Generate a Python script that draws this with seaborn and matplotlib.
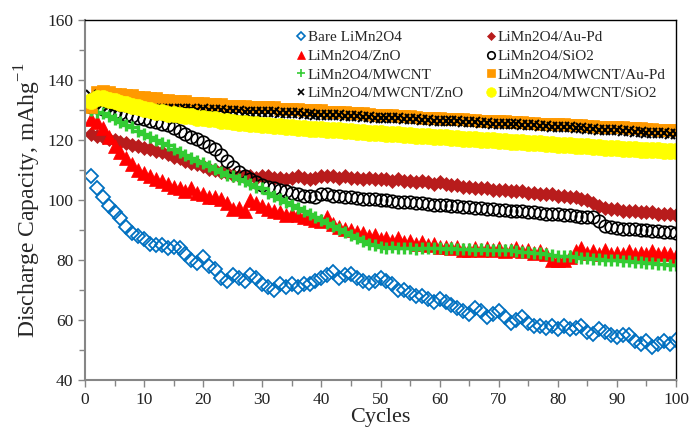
import numpy as np
import pandas as pd
import seaborn as sns
import matplotlib.pyplot as plt
from matplotlib.ticker import MultipleLocator

cycles = list(range(1, 101))

bare = [108, 104, 101, 98, 96, 94, 91, 89, 88, 87,
        85.5, 85, 85, 84, 84.5, 84, 82, 80, 79, 81,
        78, 77, 74, 73, 75, 74, 73, 75, 74, 72,
        71, 70, 72, 71, 72, 71, 72, 72, 73, 74,
        75, 76, 74, 75, 75.5, 74, 73, 72.5, 73, 74,
        73, 72, 70, 70, 69, 68, 68, 67, 66, 67,
        66, 65, 64, 63, 62, 64, 63, 61, 62, 63,
        61, 59, 60, 61, 59, 58, 58, 57.5, 58, 57,
        58, 57, 57.5, 58, 56, 55.5, 57, 56, 55, 54.5,
        55, 55, 53, 52, 53, 51, 52, 53, 52, 53.5]

au_pd = [122, 121.5, 121, 120.5, 120, 119.5, 119, 118.5, 118, 117.5,
         117, 116.5, 116, 115.5, 114.5, 114, 113, 112.5, 112, 111.5,
         110.5, 110, 109.5, 109, 108.5, 108, 108, 108, 107.5, 108,
         108, 107.5, 107.5, 107, 107.5, 108, 107.5, 107, 107.5, 108,
         108, 108, 107.5, 108, 107.5, 107.5, 107, 107.5, 107, 107,
         107, 106.5, 107, 106.5, 106.5, 106, 106.5, 106, 105.5, 106,
         105.5, 105, 105, 104.5, 104.5, 104, 104, 104, 103.5, 103.5,
         103.5, 103, 103, 103, 102.5, 102.5, 102, 102, 102, 101.5,
         101.5, 101, 101, 100.5, 100, 99, 98, 97.5, 97, 97,
         96.5, 96.5, 96.5, 96, 96, 96, 95.5, 95.5, 95.5, 95]

zno = [127, 126, 124, 121, 118, 116, 114, 112, 110, 109,
       108, 107, 106.5, 105.5, 104.5, 104, 103, 104, 102.5, 102,
       101, 101, 100.5, 99, 97, 97.5, 96.5, 100, 99, 98,
       97, 96.5, 96, 95, 95.5, 95, 94.5, 94, 93.5, 93,
       94.5, 92, 91, 90.5, 90, 89.5, 89, 88, 88.5, 87,
       87.5, 86.5, 87.5, 86, 86.5, 85.5, 86, 85, 85.5, 84.5,
       84.5, 84, 84.5, 83.5, 83.5, 84, 83.5, 84, 83.5, 84,
       83, 83.5, 84, 83, 83.5, 82.5, 83, 82, 80, 80,
       80, 81, 83, 84, 82.5, 83, 82, 83.5, 82, 82.5,
       82, 83, 82, 82.5, 82, 83, 82, 82.5, 82, 81.5]

sio2 = [131, 131, 130.5, 130, 129.5, 129, 128.5, 128, 127.5, 127,
        126.5, 126, 125.5, 125, 124, 123, 122, 121, 120.5, 119.5,
        118, 117, 115, 113, 111, 109.5, 108, 107, 106, 105,
        104.5, 104, 103.5, 103, 102.5, 102, 101.5, 101.5, 101, 102,
        102, 101.5, 101.5, 101, 101, 100.8, 100.5, 100.5, 100.3, 100,
        100, 99.8, 99.5, 99.5, 99.3, 99, 99, 98.8, 98.5, 98.5,
        98.3, 98, 98, 97.8, 97.6, 97.5, 97.3, 97, 97, 96.8,
        96.8, 96.5, 96.5, 96.3, 96, 96, 95.8, 95.5, 95.5, 95.3,
        95, 95, 94.8, 94.5, 94.5, 94.3, 93, 91.5, 91, 90.8,
        90.5, 90.5, 90.3, 90, 90, 89.8, 89.6, 89.5, 89.3, 89]

mwcnt = [130, 129.5, 129, 128, 127, 126, 125, 124.5, 123, 122,
         121, 120, 119, 118.5, 117, 116, 115, 114, 113, 112.5,
         111.5, 110.5, 109.5, 108.5, 108, 107, 106.5, 105.5, 104.5, 104,
         102.5, 101.5, 100.5, 99.5, 98.5, 97.5, 96.5, 95.5, 94.5, 93.5,
         92.5, 91.5, 90.5, 89.5, 88.5, 87.5, 86.5, 85.5, 85, 84.5,
         84, 84.2, 83.9, 84.1, 84, 83.8, 84.1, 84, 83.9, 84,
         83.8, 83.9, 83.7, 83.6, 83.8, 83.5, 83.6, 83.4, 83.5, 83.3,
         83.3, 83.2, 83, 82.8, 82.6, 82.4, 82.2, 82, 81.8, 81.5,
         81.4, 81.2, 81, 80.8, 80.6, 80.5, 80.3, 80.1, 80, 79.9,
         79.7, 79.6, 79.4, 79.2, 79, 78.9, 78.8, 78.6, 78.5, 78.3]

mwcnt_au_pd = [131, 136, 136.5, 136, 135.5, 135.5, 135, 135, 134.5, 134.5,
               134, 134, 133.5, 133.5, 133, 133, 133, 132.5, 132.5, 132.5,
               132, 132, 132, 131.5, 131.5, 131.5, 131.5, 131, 131, 131,
               131, 131, 130.5, 130.5, 130.5, 130.5, 130, 130, 130, 130,
               129.5, 129.5, 129.5, 129.3, 129, 129, 129, 128.8, 128.5, 128.5,
               128.5, 128.3, 128, 128, 128, 127.8, 127.5, 127.5, 127.5, 127.3,
               127, 127, 127, 127, 126.8, 126.8, 126.5, 126.5, 126.5, 126.3,
               126.3, 126, 126, 126, 125.8, 125.8, 125.5, 125.5, 125.5, 125.3,
               125.3, 125, 125, 125, 124.8, 124.8, 124.5, 124.5, 124.5, 124.3,
               124.3, 124, 124, 124, 123.8, 123.8, 123.5, 123.5, 123.5, 123.3]

mwcnt_zno = [135, 133, 132, 131.5, 131, 131, 131, 130.8, 130.8, 130.5,
             130.5, 130.5, 130.5, 130.3, 130.3, 130.5, 130.3, 130.3, 130, 130.3,
             130, 130, 130, 129.8, 129.8, 129.8, 129.5, 129.5, 129.5, 129.5,
             129.3, 129.3, 129, 129, 129, 129, 128.8, 128.8, 128.5, 128.5,
             128.5, 128.3, 128.3, 128, 128, 128, 127.8, 127.8, 127.5, 127.5,
             127.5, 127.3, 127.3, 127, 127, 127, 126.8, 126.8, 126.5, 126.5,
             126.5, 126.3, 126.3, 126, 126, 126, 125.8, 125.8, 125.5, 125.5,
             125.5, 125.3, 125.3, 125, 125, 125, 124.8, 124.8, 124.5, 124.5,
             124.3, 124.3, 124, 124, 123.8, 123.8, 123.5, 123.5, 123.3, 123.3,
             123, 123, 122.8, 122.8, 122.5, 122.5, 122.3, 122.3, 122, 122]

mwcnt_sio2 = [133, 134, 134, 133.5, 133, 132.5, 132, 131.5, 131, 130.5,
              130, 129.5, 129.2, 128.8, 128.6, 128.3, 128, 127.9, 127.5, 127.3,
              127, 126.9, 126.5, 126.4, 126.1, 125.8, 125.7, 125.4, 125.2, 125,
              124.9, 124.7, 124.6, 124.4, 124.3, 124.1, 124, 123.8, 123.7, 123.6,
              123.4, 123.3, 123.2, 123, 122.9, 122.8, 122.6, 122.5, 122.4, 122.3,
              122.1, 122, 121.9, 121.8, 121.6, 121.5, 121.4, 121.3, 121.1, 121,
              120.9, 120.7, 120.6, 120.5, 120.4, 120.2, 120.1, 120, 119.9, 119.7,
              119.6, 119.5, 119.4, 119.2, 119.1, 119, 118.9, 118.7, 118.6, 118.5,
              118.4, 118.2, 118.1, 118, 117.9, 117.7, 117.6, 117.5, 117.4, 117.2,
              117.1, 117, 116.9, 116.8, 116.7, 116.6, 116.6, 116.5, 116.5, 116.4]

labels = ['Bare LiMn2O4', 'LiMn2O4/Au-Pd', 'LiMn2O4/ZnO', 'LiMn2O4/SiO2',
          'LiMn2O4/MWCNT', 'LiMn2O4/MWCNT/Au-Pd', 'LiMn2O4/MWCNT/ZnO',
          'LiMn2O4/MWCNT/SiO2']
series = [bare, au_pd, zno, sio2, mwcnt, mwcnt_au_pd, mwcnt_zno, mwcnt_sio2]

# marker, edge colour, face colour, size, edge width
styles = [
    ('D', '#0070C0', 'none', 7.5, 1.3),
    ('D', '#B81c1c', '#B81c1c', 7.5, 0.5),
    ('^', '#FF0000', '#FF0000', 9.5, 0.5),
    ('o', '#000000', 'none', 9, 1.2),
    ('+', '#33CC33', '#33CC33', 9, 2.4),
    ('s', '#FF9900', '#FF9900', 9, 0.5),
    ('x', '#000000', '#000000', 6.5, 1.5),
    ('o', '#FFFF00', '#FFFF00', 11.5, 0.5),
]

sns.set_style("ticks")
plt.rcParams['font.family'] = ['Liberation Serif', 'DejaVu Serif']
plt.rcParams['mathtext.fontset'] = 'custom'
plt.rcParams['mathtext.rm'] = 'Liberation Serif'

fig = plt.figure(figsize=(6.89, 4.32), dpi=100)
ax = fig.add_axes([85 / 689, 52 / 432, 591 / 689, 360 / 432])

for name, vals, (mk, ec, fc, ms, mew) in zip(labels, series, styles):
    df = pd.DataFrame({'Cycles': cycles, 'Capacity': vals})
    sns.lineplot(data=df, x='Cycles', y='Capacity', ax=ax, label=name,
                 estimator=None, errorbar=None, linestyle='', marker=mk,
                 markersize=ms, markeredgewidth=mew, markeredgecolor=ec,
                 markerfacecolor=fc, color=ec)

ax.set_xlim(0, 100)
ax.set_ylim(40, 160)
ax.xaxis.set_major_locator(MultipleLocator(10))
ax.xaxis.set_minor_locator(MultipleLocator(5))
ax.yaxis.set_major_locator(MultipleLocator(20))
ax.yaxis.set_minor_locator(MultipleLocator(10))
ax.tick_params(axis='both', which='both', direction='out', color='#868686',
               width=1, labelsize=12.5, labelcolor='#222222')
ax.tick_params(which='major', length=5)
ax.tick_params(which='minor', length=4)

for side in ['left', 'bottom']:
    ax.spines[side].set_color('#868686')
    ax.spines[side].set_linewidth(1.5)
for side in ['top', 'right']:
    ax.spines[side].set_visible(True)
    ax.spines[side].set_color('black')
    ax.spines[side].set_linewidth(1)

ax.set_xlabel('Cycles', fontsize=16, labelpad=0)
ax.set_ylabel('Discharge Capacity, mAhg$^{\\mathrm{-1}}$', fontsize=17, labelpad=3)

handles, lbls = ax.get_legend_handles_labels()
order = [0, 2, 4, 6, 1, 3, 5, 7]
leg = ax.legend([handles[i] for i in order], [lbls[i] for i in order], ncol=2,
                loc='upper left', bbox_to_anchor=(0.338, 1.0), frameon=False,
                fontsize=11, markerscale=0.6, handlelength=0.7, handletextpad=0.1,
                labelspacing=0.32, columnspacing=1.4, borderpad=0.2)
for h in leg.legend_handles:
    h.set_markeredgewidth(min(h.get_markeredgewidth(), 1.2))

fig.savefig('out.png', dpi=100)
